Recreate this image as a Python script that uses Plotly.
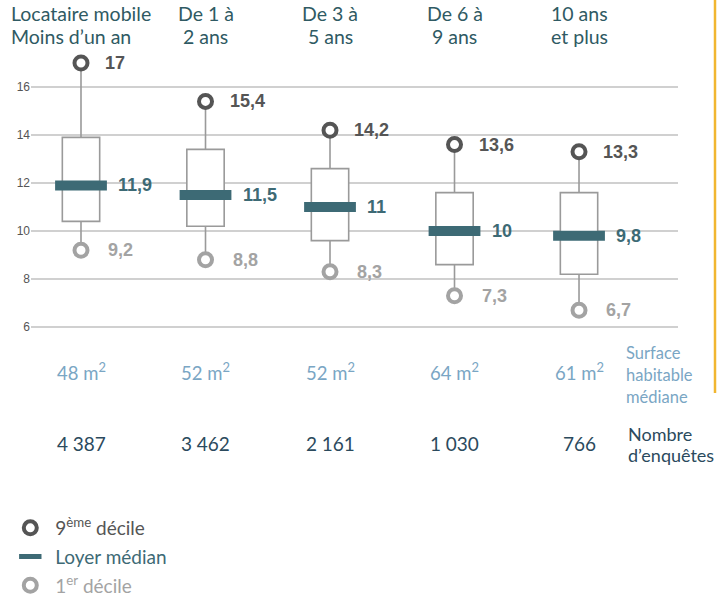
import plotly.graph_objects as go

categories = ["Locataire mobile<br>Moins d’un an", "De 1 à<br>2 ans", "De 3 à<br>5 ans", "De 6 à<br>9 ans", "10 ans<br>et plus"]
decile9 = [17.0, 15.4, 14.2, 13.6, 13.3]
q3 = [13.9, 13.4, 12.6, 11.6, 11.6]
median = [11.9, 11.5, 11.0, 10.0, 9.8]
q1 = [10.4, 10.2, 9.6, 8.6, 8.2]
decile1 = [9.2, 8.8, 8.3, 7.3, 6.7]
surface = ["48", "52", "52", "64", "61"]
n_enquetes = ["4\u202f387", "3\u202f462", "2\u202f161", "1\u202f030", "766"]
surface_label = ["Surface", "habitable", "médiane"]
enquetes_label = ["Nombre", "d’enquêtes"]
yticks = [6, 8, 10, 12, 14, 16]

xs = list(range(len(categories)))

DARK = "#555555"
LIGHT = "#a3a3a3"
TEAL = "#3d6a75"
TITLE = "#2f5a63"
BLUE = "#7aa6c4"
NAVY = "#2b4a5d"
LATO = "Lato"
NUMF = "Liberation Sans"

def fr(v):
    return ("%g" % v).replace(".", ",")

def py(p):
    # pixel row (from top) -> paper y for plot area 51..339
    return (339 - p) / 288.0

fig = go.Figure()

fig.add_trace(go.Box(
    x=xs, q1=q1, median=median, q3=q3, lowerfence=decile1, upperfence=decile9,
    width=0.3, whiskerwidth=0, fillcolor="white",
    line=dict(color="#9a9a9a", width=1.6), showlegend=False, hoverinfo="skip",
))

fig.add_trace(go.Scatter(
    x=xs, y=decile9, mode="markers",
    name="\u00a0<span style='color:#555555'>9<sup>ème</sup> décile</span>",
    marker=dict(symbol="circle", size=13, color="white", line=dict(color=DARK, width=4)),
    legendgroup="a",
))
fig.add_trace(go.Scatter(
    x=xs, y=median, mode="markers",
    name="\u00a0<span style='color:#3d6a75'>Loyer médian</span>",
    marker=dict(symbol="line-ew", size=37, color=TEAL, line=dict(color=TEAL, width=10)),
    legendgroup="b",
))
fig.add_trace(go.Scatter(
    x=xs, y=decile1, mode="markers",
    name="\u00a0<span style='color:#a3a3a3'>1<sup>er</sup> décile</span>",
    marker=dict(symbol="circle", size=13, color="white", line=dict(color=LIGHT, width=4)),
    legendgroup="c",
))

ann = []
for i in xs:
    ann.append(dict(x=i, y=decile9[i], text="<b>%s</b>" % fr(decile9[i]), xanchor="left", yanchor="middle",
                    xshift=22, showarrow=False, font=dict(family=NUMF, size=18, color=DARK)))
    ann.append(dict(x=i, y=median[i], text="<b>%s</b>" % fr(median[i]), xanchor="left", yanchor="middle",
                    xshift=35, showarrow=False, font=dict(family=NUMF, size=18, color=TEAL)))
    ann.append(dict(x=i, y=decile1[i], text="<b>%s</b>" % fr(decile1[i]), xanchor="left", yanchor="middle",
                    xshift=25, showarrow=False, font=dict(family=NUMF, size=18, color=LIGHT)))
    lines = categories[i].split("<br>")
    for k, p in enumerate([14, 36]):
        if i == 0:
            ann.append(dict(x=i, y=py(p), yref="paper", text=lines[k], xanchor="left", yanchor="middle",
                            xshift=-72, showarrow=False, font=dict(family=LATO, size=19.5, color=TITLE)))
        else:
            ann.append(dict(x=i, y=py(p), yref="paper", text=lines[k], xanchor="center", yanchor="middle",
                            showarrow=False, font=dict(family=LATO, size=19.5, color=TITLE)))
    ann.append(dict(x=i, y=py(371), yref="paper", text="%s m<sup>2</sup>" % surface[i], xanchor="center",
                    yanchor="middle", showarrow=False, font=dict(family=LATO, size=18.5, color=BLUE)))
    ann.append(dict(x=i, y=py(443), yref="paper", text=n_enquetes[i], xanchor="center",
                    yanchor="middle", showarrow=False, font=dict(family=LATO, size=19, color=NAVY)))

for k, p in enumerate([353, 375, 397]):
    ann.append(dict(x=(624 - 31) / 647.0, xref="paper", y=py(p), yref="paper", text=surface_label[k],
                    xanchor="left", yanchor="middle", showarrow=False,
                    font=dict(family=LATO, size=16.5, color=BLUE)))
for k, p in enumerate([434, 455]):
    ann.append(dict(x=(626 - 31) / 647.0, xref="paper", y=py(p), yref="paper", text=enquetes_label[k],
                    xanchor="left", yanchor="middle", showarrow=False,
                    font=dict(family=LATO, size=18, color=NAVY)))

fig.update_layout(
    width=717, height=600,
    margin=dict(l=31, r=39, t=51, b=261, autoexpand=False),
    plot_bgcolor="white", paper_bgcolor="white",
    annotations=ann,
    showlegend=True,
    legend=dict(x=-0.032, y=py(509), xanchor="left", yanchor="top", tracegroupgap=1,
                font=dict(family=LATO, size=19), itemwidth=30, bgcolor="rgba(0,0,0,0)"),
    shapes=[dict(type="line", xref="paper", yref="paper", x0=(715 - 31) / 647.0, x1=(715 - 31) / 647.0,
                 y0=py(393), y1=py(0), line=dict(color="#f1b630", width=2.5))],
    xaxis=dict(range=[-0.4016, 4.795], showgrid=False, zeroline=False, showticklabels=False, ticks=""),
    yaxis=dict(range=[5.5, 17.5], tickvals=yticks, showgrid=True, gridcolor="#d0d0d0", gridwidth=1.5,
               zeroline=False, ticks="", tickfont=dict(family="Liberation Sans", size=12, color="#555555")),
)

fig.write_html("out.html", config={"displayModeBar": False},
               post_script="document.body.style.margin='0px';")
